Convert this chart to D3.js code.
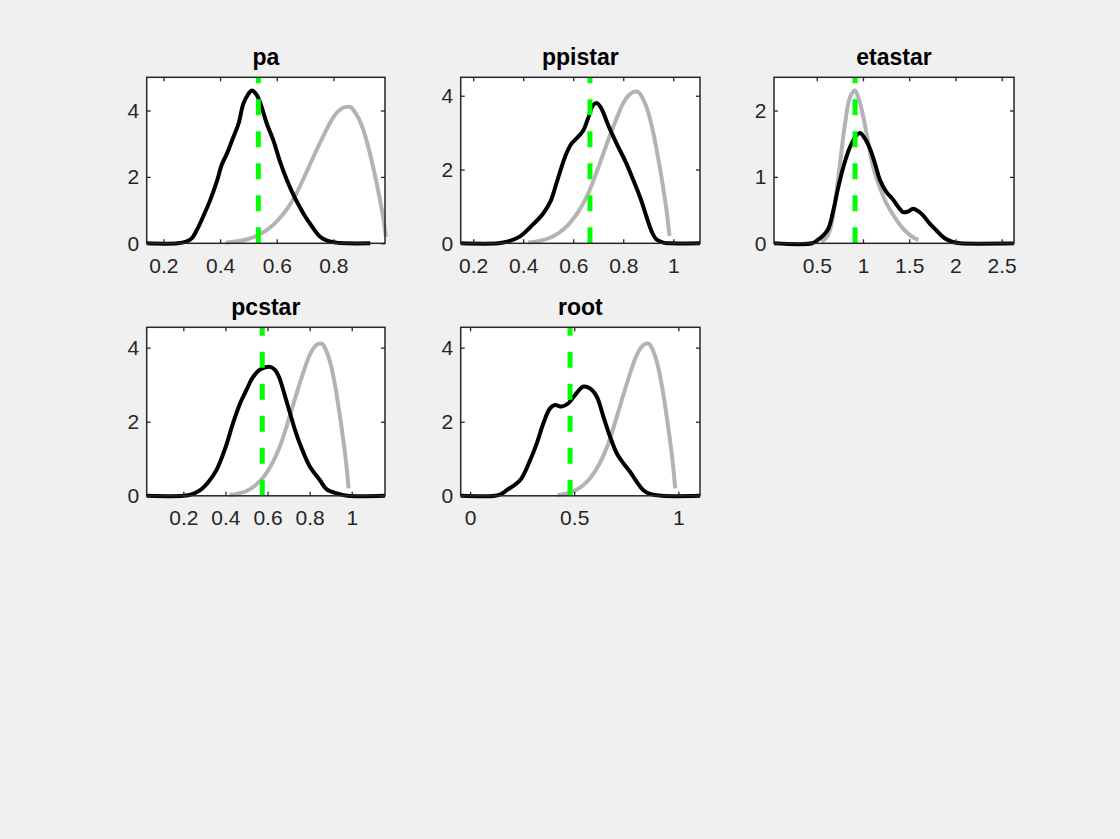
<!DOCTYPE html>
<html>
<head>
<meta charset="utf-8">
<script src="https://cdn.jsdelivr.net/npm/d3@7/dist/d3.min.js"></script>
<style>
  html, body { margin: 0; padding: 0; background: #f0f0f0; }
  svg { display: block; }
  text { font-family: "Liberation Sans", Arial, Helvetica, sans-serif; }
</style>
</head>
<body>
<svg id="fig" width="1120" height="839"></svg>
<script>
// Shared prior density (beta-shaped) used by pa, ppistar, pcstar and root
const priorX = [0.42, 0.46, 0.50, 0.54, 0.58, 0.62, 0.66, 0.70, 0.74, 0.78, 0.80, 0.82, 0.84, 0.86, 0.88, 0.90, 0.92, 0.94, 0.96, 0.975, 0.985];
const priorY = [0.02, 0.06, 0.13, 0.27, 0.50, 0.85, 1.35, 2.05, 2.80, 3.50, 3.80, 4.00, 4.10, 4.10, 3.90, 3.55, 3.00, 2.30, 1.50, 0.80, 0.20];

// pa
const paPostX = [0.141, 0.25, 0.28, 0.30, 0.318, 0.34, 0.365, 0.39, 0.405, 0.424, 0.447, 0.465, 0.482, 0.50, 0.512, 0.527, 0.541, 0.565, 0.588, 0.61, 0.636, 0.665, 0.694, 0.725, 0.753, 0.78, 0.81, 0.85, 0.93];
const paPostY = [0, 0, 0.05, 0.15, 0.40, 0.80, 1.30, 1.90, 2.35, 2.70, 3.20, 3.60, 4.20, 4.50, 4.60, 4.50, 4.25, 3.60, 3.10, 2.50, 1.90, 1.35, 0.90, 0.50, 0.20, 0.07, 0.02, 0, 0];
const paMode = 0.535;

// ppistar
const ppiPostX = [0.15, 0.30, 0.34, 0.386, 0.43, 0.48, 0.51, 0.533, 0.555, 0.573, 0.593, 0.613, 0.64, 0.66, 0.68, 0.695, 0.713, 0.74, 0.773, 0.81, 0.84, 0.87, 0.893, 0.915, 0.933, 0.96, 0.99, 1.107];
const ppiPostY = [0, 0, 0.05, 0.18, 0.45, 0.81, 1.15, 1.63, 2.10, 2.44, 2.70, 2.84, 3.06, 3.40, 3.75, 3.80, 3.65, 3.20, 2.71, 2.20, 1.72, 1.20, 0.72, 0.30, 0.10, 0.02, 0, 0];
const ppiMode = 0.667;

// etastar
const etaPriorX = [0.55, 0.60, 0.644, 0.68, 0.716, 0.76, 0.806, 0.86, 0.914, 0.96, 1.004, 1.06, 1.11, 1.18, 1.254, 1.34, 1.434, 1.52, 1.60];
const etaPriorY = [0.02, 0.08, 0.20, 0.45, 0.80, 1.30, 1.80, 2.20, 2.30, 2.15, 1.90, 1.50, 1.15, 0.85, 0.60, 0.40, 0.22, 0.11, 0.05];
const etaPostX = [0.038, 0.45, 0.50, 0.572, 0.626, 0.68, 0.734, 0.788, 0.86, 0.932, 0.968, 1.02, 1.077, 1.13, 1.185, 1.25, 1.33, 1.38, 1.434, 1.49, 1.542, 1.60, 1.65, 1.72, 1.79, 1.88, 1.97, 2.05, 2.633];
const etaPostY = [0, 0, 0.04, 0.12, 0.22, 0.50, 0.85, 1.15, 1.45, 1.63, 1.66, 1.58, 1.42, 1.20, 0.95, 0.78, 0.65, 0.55, 0.47, 0.48, 0.52, 0.48, 0.42, 0.30, 0.20, 0.08, 0.02, 0, 0];
const etaMode = 0.914;

// pcstar
const pcPostX = [0.026, 0.20, 0.24, 0.28, 0.32, 0.358, 0.40, 0.436, 0.47, 0.50, 0.53, 0.562, 0.59, 0.612, 0.635, 0.655, 0.68, 0.707, 0.735, 0.765, 0.80, 0.849, 0.88, 0.938, 0.98, 1.158];
const pcPostY = [0, 0, 0.04, 0.15, 0.38, 0.70, 1.30, 1.96, 2.50, 2.86, 3.20, 3.40, 3.47, 3.48, 3.40, 3.20, 2.75, 2.23, 1.70, 1.24, 0.80, 0.42, 0.18, 0.05, 0, 0];
const pcMode = 0.575;

// root
const rootPostX = [-0.045, 0.12, 0.15, 0.176, 0.24, 0.288, 0.32, 0.352, 0.384, 0.408, 0.44, 0.472, 0.504, 0.544, 0.576, 0.608, 0.64, 0.672, 0.704, 0.736, 0.768, 0.80, 0.832, 0.864, 0.92, 1.104];
const rootPostY = [0, 0, 0.05, 0.15, 0.42, 0.96, 1.41, 1.96, 2.36, 2.45, 2.41, 2.50, 2.72, 2.95, 2.90, 2.68, 2.14, 1.60, 1.15, 0.88, 0.65, 0.38, 0.15, 0.05, 0, 0];
const rootMode = 0.48;

// Panel titles, axis limits and tick labels
const titles = ["pa", "ppistar", "etastar", "pcstar", "root"];
const xLimits = [[0.141, 0.982], [0.15, 1.107], [0.038, 2.633], [0.026, 1.158], [-0.045, 1.104]];
const yLimits = [[0, 5], [0, 4.5], [0, 2.5], [0, 4.55], [0, 4.55]];
const xTickValues = [[0.2, 0.4, 0.6, 0.8], [0.2, 0.4, 0.6, 0.8, 1], [0.5, 1, 1.5, 2, 2.5], [0.2, 0.4, 0.6, 0.8, 1], [0, 0.5, 1]];
const yTickValues = [[0, 2, 4], [0, 2, 4], [0, 1, 2], [0, 2, 4], [0, 2, 4]];

const panels = [
  { prior: [priorX, priorY], post: [paPostX, paPostY], mode: paMode },
  { prior: [priorX, priorY], post: [ppiPostX, ppiPostY], mode: ppiMode },
  { prior: [etaPriorX, etaPriorY], post: [etaPostX, etaPostY], mode: etaMode },
  { prior: [priorX, priorY], post: [pcPostX, pcPostY], mode: pcMode },
  { prior: [priorX, priorY], post: [rootPostX, rootPostY], mode: rootMode }
];

// Subplot frames (3x3 grid, five used)
const boxes = [
  { left: 146.7, top: 77.3, width: 238.3, height: 166 },
  { left: 460.7, top: 77.3, width: 239.3, height: 166 },
  { left: 774, top: 77.3, width: 240, height: 166 },
  { left: 146.7, top: 327.3, width: 238.3, height: 168.5 },
  { left: 460.7, top: 327.3, width: 239.3, height: 168.5 }
];

const axisColor = "#262626";
const fmt = d3.format("~g");
const svg = d3.select("#fig");

panels.forEach((p, i) => {
  const b = boxes[i];
  const g = svg.append("g").attr("transform", `translate(${b.left},${b.top})`);
  const x = d3.scaleLinear().domain(xLimits[i]).range([0, b.width]);
  const y = d3.scaleLinear().domain(yLimits[i]).range([b.height, 0]);

  g.append("rect").attr("width", b.width).attr("height", b.height).attr("fill", "#ffffff");

  const line = d3.line().x(d => x(d[0])).y(d => y(Math.max(0, d[1])))
    .curve(d3.curveCatmullRom.alpha(0.5));
  const pairs = (xs, ys) => xs.map((v, k) => [v, ys[k]]);

  // prior density
  g.append("path")
    .attr("d", line(pairs(p.prior[0], p.prior[1])))
    .attr("fill", "none").attr("stroke", "#b3b3b3").attr("stroke-width", 4)
    .attr("stroke-linejoin", "round");

  // posterior density
  g.append("path")
    .attr("d", line(pairs(p.post[0], p.post[1])))
    .attr("fill", "none").attr("stroke", "#000000").attr("stroke-width", 4)
    .attr("stroke-linejoin", "round");

  // posterior mode marker
  g.append("line")
    .attr("x1", x(p.mode)).attr("x2", x(p.mode))
    .attr("y1", y(yLimits[i][0])).attr("y2", y(yLimits[i][1]))
    .attr("stroke", "#00ff00").attr("stroke-width", 5)
    .attr("stroke-dasharray", "16 16");

  // axes with inward ticks on all four sides
  const xb = g.append("g").attr("transform", `translate(0,${b.height})`)
    .call(d3.axisBottom(x).tickValues(xTickValues[i]).tickFormat(fmt)
      .tickSizeInner(-4).tickSizeOuter(0).tickPadding(14.6));
  const xt = g.append("g")
    .call(d3.axisTop(x).tickValues(xTickValues[i]).tickFormat("")
      .tickSizeInner(-4).tickSizeOuter(0));
  const yl = g.append("g")
    .call(d3.axisLeft(y).tickValues(yTickValues[i]).tickFormat(fmt)
      .tickSizeInner(-4).tickSizeOuter(0).tickPadding(7.5));
  const yr = g.append("g").attr("transform", `translate(${b.width},0)`)
    .call(d3.axisRight(y).tickValues(yTickValues[i]).tickFormat("")
      .tickSizeInner(-4).tickSizeOuter(0));

  [xb, xt, yl, yr].forEach(a => {
    a.select(".domain").remove();
    a.selectAll(".tick line").attr("stroke", axisColor).attr("stroke-width", 1.3);
    a.selectAll(".tick text").attr("fill", axisColor).style("font-size", "21px")
      .style("font-family", '"Liberation Sans", Arial, sans-serif');
  });

  g.append("rect").attr("width", b.width).attr("height", b.height)
    .attr("fill", "none").attr("stroke", axisColor).attr("stroke-width", 1.5);

  g.append("text")
    .attr("x", b.width / 2).attr("y", -12.5)
    .attr("text-anchor", "middle")
    .attr("font-weight", "bold").attr("font-size", 23).attr("fill", "#000000")
    .text(titles[i]);
});
</script>
</body>
</html>
